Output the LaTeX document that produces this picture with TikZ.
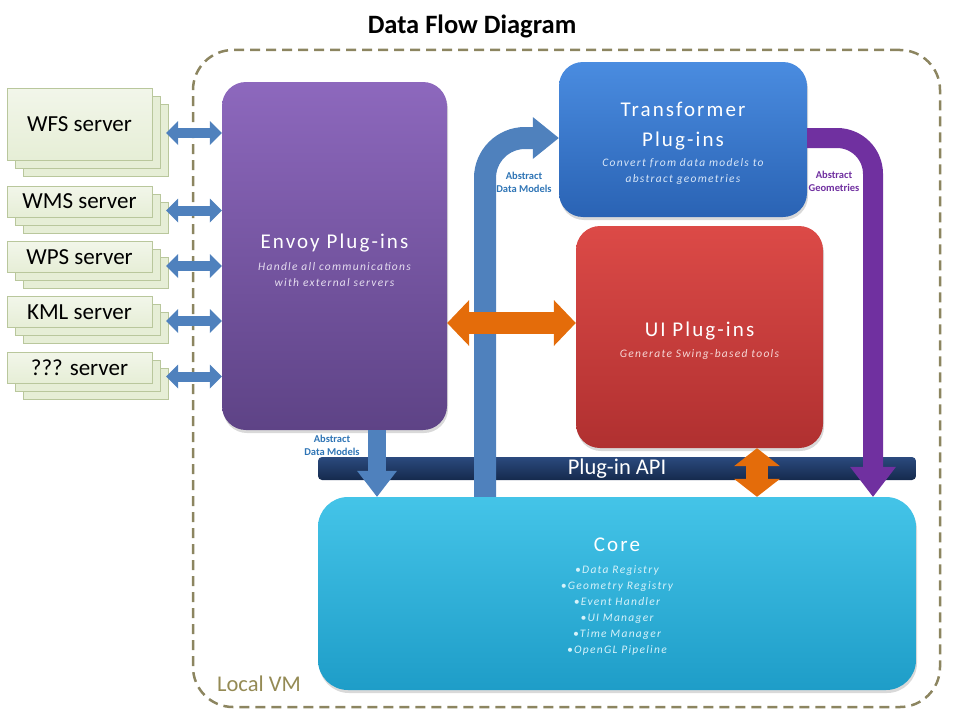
\documentclass[tikz,border=0pt]{standalone}
\usepackage{fontspec}
\setmainfont{Carlito}
\newfontfamily\spaced[LetterSpace=10]{Carlito}
\newfontfamily\notefont[LetterSpace=11]{Carlito}
\usepackage{xcolor}
\usepackage{tikz}
\usetikzlibrary{arrows.meta,shadows}

\definecolor{vmline}{HTML}{8C8560}
\definecolor{vmtext}{HTML}{948A54}
\definecolor{srvfill}{HTML}{E6EED6}
\definecolor{srvtop}{HTML}{F2F6EA}
\definecolor{srvline}{HTML}{B9C79C}
\definecolor{envtop}{HTML}{8D68BD}
\definecolor{envbot}{HTML}{5E4386}
\definecolor{trtop}{HTML}{4A8CE0}
\definecolor{trbot}{HTML}{2A63B4}
\definecolor{uitop}{HTML}{DC4A47}
\definecolor{uibot}{HTML}{B03030}
\definecolor{apitop}{HTML}{2B4A7E}
\definecolor{apibot}{HTML}{152A4D}
\definecolor{coretop}{HTML}{44C4E8}
\definecolor{corebot}{HTML}{1E9DC8}
\definecolor{blueflow}{HTML}{4F81BD}
\definecolor{orflow}{HTML}{E46C0A}
\definecolor{purflow}{HTML}{7030A0}
\definecolor{dmtext}{HTML}{2E74B5}

\newcommand{\boxtitle}{\fontsize{21}{25}\selectfont\spaced}
\newcommand{\boxnote}[1]{\fontsize{11.5}{16}\selectfont\notefont\itshape\color{white!78!#1}}

\begin{document}
\begin{tikzpicture}[x=1pt, y=-1pt, every node/.style={inner sep=0pt},
    plugin/.style={rectangle, rounded corners=24pt,
      drop shadow={opacity=0.3, shadow xshift=1pt, shadow yshift=-3pt}},
    plugtext/.style={yshift=-4pt, text=white, align=center, font=\fontsize{11.5}{16}\selectfont},
    server/.style={rectangle, minimum width=145pt, draw=srvline, top color=srvtop, bottom color=srvfill,
      font=\fontsize{23}{26}\selectfont,
      copy shadow={shadow xshift=16pt, shadow yshift=-16pt, fill=srvfill, draw=srvline},
      copy shadow={shadow xshift=8pt, shadow yshift=-8pt, fill=srvfill, draw=srvline}},
    srvlink/.style={blueflow, line width=10pt,
      {Triangle[length=12pt,width=24pt,line width=0pt]}-{Triangle[length=12pt,width=24pt,line width=0pt]}},
    flowlabel/.style={font=\fontsize{10.5}{13}\selectfont\bfseries, align=center}]

    \useasboundingbox (0,0) rectangle (960,709);

    % title and local vm
    \node (title) at (472,26) {\fontsize{26.5}{30}\selectfont\bfseries Data Flow Diagram};
    \node (vm) at (566.5,378.5) [draw=vmline, line width=2.5pt, dash pattern=on 10pt off 6pt,
      rounded corners=40pt, minimum width=747pt, minimum height=657pt] {};
    \node (vmlabel) at (259,684) [text=vmtext, font=\fontsize{22.5}{26}\selectfont] {Local VM};

    % servers
    \node (wfs) at (79.5,124) [server, minimum height=72pt] {WFS server};
    \node (wms) at (79.5,201.5) [server, minimum height=31pt] {WMS server};
    \node (wps) at (79.5,257) [server, minimum height=31pt] {WPS server};
    \node (kml) at (79.5,312) [server, minimum height=31pt] {KML server};
    \node (other) at (79.5,367.5) [server, minimum height=31pt] {??? server};

    % core and api
    \node (core) at (617,593.5) [plugin, rounded corners=30pt, top color=coretop, bottom color=corebot,
      minimum width=598pt, minimum height=193pt,
      label={[plugtext, yshift=1pt]center:{{\boxtitle Core}\\[6pt]
       {\boxnote{coretop}\textbullet Data Registry}\\{\boxnote{coretop}\textbullet Geometry Registry}\\
       {\boxnote{coretop}\textbullet Event Handler}\\{\boxnote{coretop}\textbullet UI Manager}\\
       {\boxnote{coretop}\textbullet Time Manager}\\{\boxnote{coretop}\textbullet OpenGL Pipeline}}}] {};
    \node (api) at (617,468.5) [rectangle, rounded corners=4pt, top color=apitop, bottom color=apibot,
      minimum width=598pt, minimum height=23pt, text=white, font=\fontsize{22.5}{26}\selectfont] {Plug-in API};

    % plug-ins
    \node (envoy) at (334.5,256) [plugin, top color=envtop, bottom color=envbot,
      minimum width=225pt, minimum height=348pt,
      label={[plugtext]center:{{\boxtitle Envoy Plug-ins}\\[6pt]
       {\boxnote{envtop}Handle all communications}\\{\boxnote{envtop}with external servers}}}] {};
    \node (transformer) at (683,139.5) [plugin, top color=trtop, bottom color=trbot,
      minimum width=248pt, minimum height=155pt,
      label={[plugtext]center:{{\boxtitle Transformer}\\[14pt]{\boxtitle Plug-ins}\\[4pt]
       {\boxnote{trtop}Convert from data models to}\\{\boxnote{trtop}abstract geometries}}}] {};
    \node (ui) at (699.5,337) [plugin, top color=uitop, bottom color=uibot,
      minimum width=247pt, minimum height=222pt,
      label={[plugtext]center:{{\boxtitle UI Plug-ins}\\[5pt]{\boxnote{uitop}Generate Swing-based tools}}}] {};

    % server links
    \foreach \srv in {wfs,wms,wps,kml,other}
      \draw[srvlink] ([xshift=14pt,yshift=-9pt]\srv.east) -- ([yshift=-9pt]\srv.east -| envoy.west);

    % data flows
    \coordinate (ed) at (377,0);
    \coordinate (ud) at (485,0);
    \coordinate (pd) at (873,0);
    \coordinate (tf) at (0,138);
    \coordinate (oh) at (0,323);
    \coordinate (ov) at (757,0);
    \draw[blueflow, line width=18pt, -{Triangle[length=26pt,width=40pt,line width=0pt]}]
      (envoy.south -| ed) -- (core.north -| ed);
    \draw[blueflow, line width=22pt, rounded corners=40pt, -{Triangle[length=26pt,width=42pt,line width=0pt]}]
      (core.north -| ud) |- (transformer.west |- tf);
    \draw[purflow, line width=20pt, rounded corners=36pt, -{Triangle[length=30pt,width=46pt,line width=0pt]}]
      (transformer.east |- tf) -| (core.north -| pd);
    \draw[orflow, line width=22pt,
      {Triangle[length=22pt,width=46pt,line width=0pt]}-{Triangle[length=22pt,width=46pt,line width=0pt]}]
      (envoy.east |- oh) -- (ui.west |- oh);
    \draw[orflow, line width=22pt,
      {Triangle[length=18pt,width=46pt,line width=0pt]}-{Triangle[length=18pt,width=46pt,line width=0pt]}]
      (ui.south -| ov) -- (core.north -| ov);

    \node (envoydm) at (332,445) [flowlabel, text=dmtext] {Abstract\\Data Models};
    \node (transdm) at (524,182) [flowlabel, text=dmtext] {Abstract\\Data Models};
    \node (geomlabel) at (834,181) [flowlabel, text=purflow] {Abstract\\Geometries};
\end{tikzpicture}
\end{document}
